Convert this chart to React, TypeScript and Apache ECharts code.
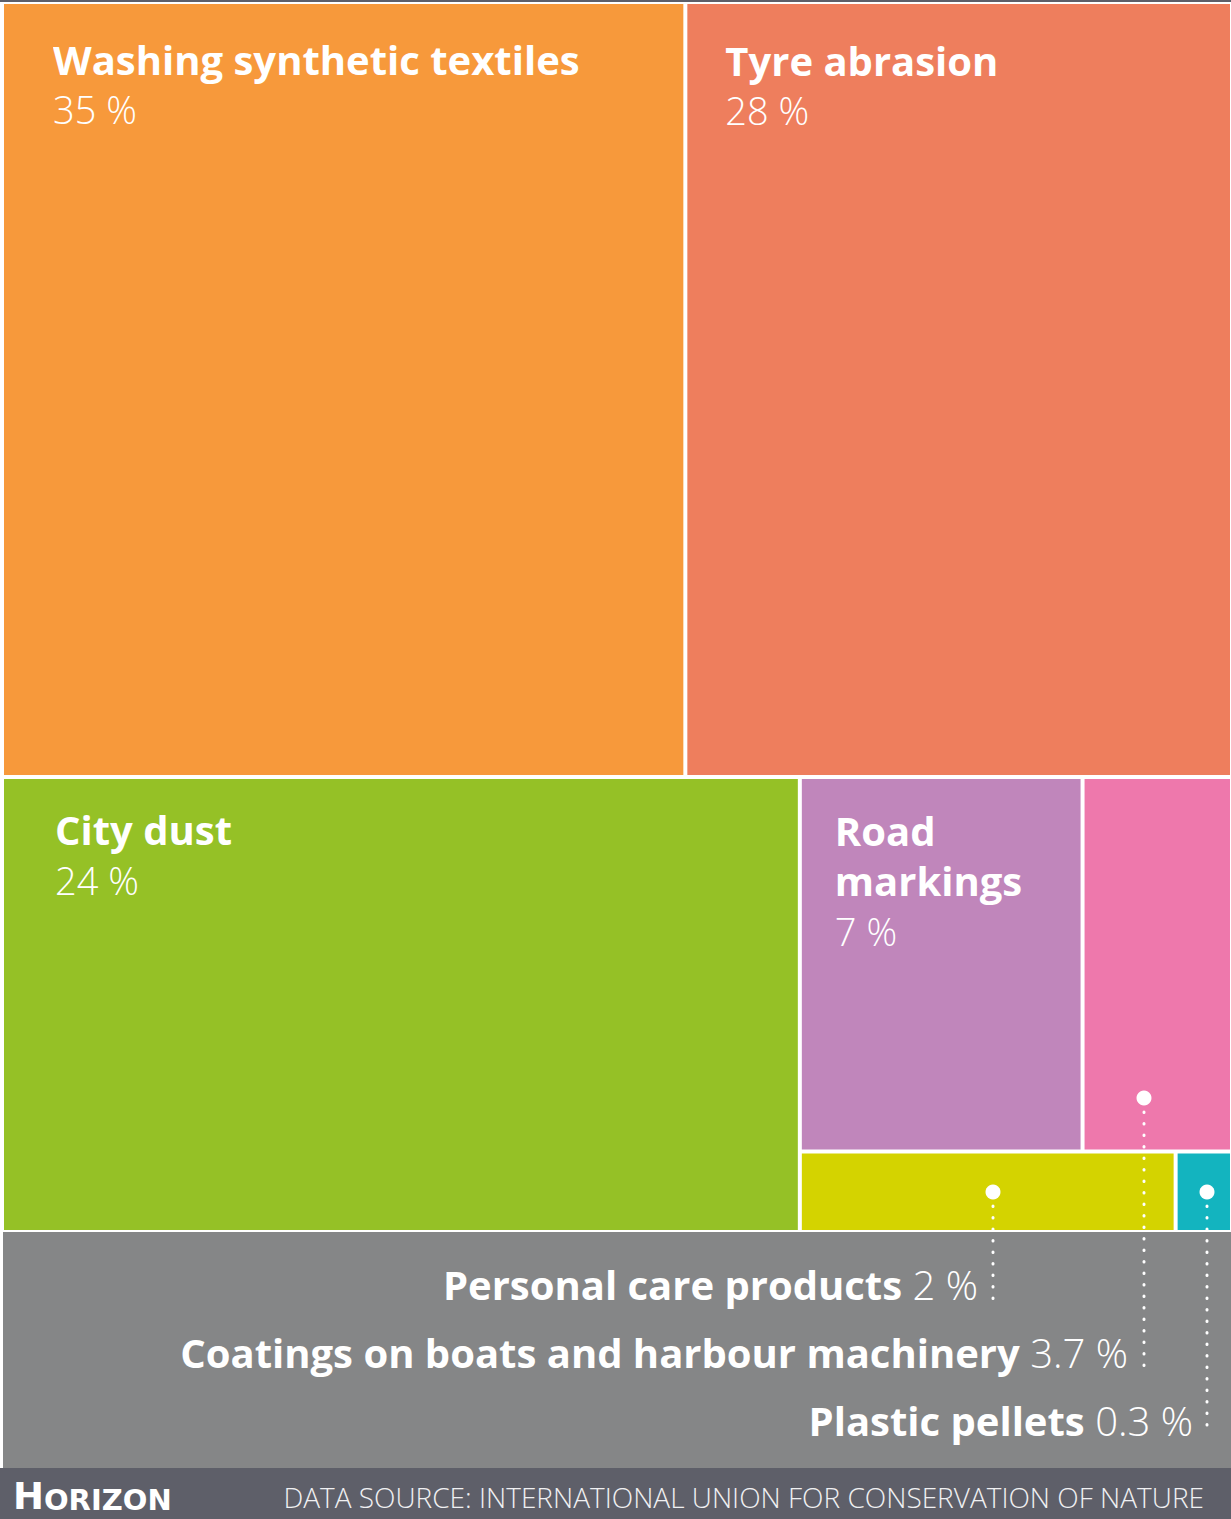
import React, { useEffect, useRef } from "react";
import * as echarts from "echarts";

const categories = [
  "Washing synthetic textiles",
  "Tyre abrasion",
  "City dust",
  "Road markings",
  "Coatings on boats and harbour machinery",
  "Personal care products",
  "Plastic pellets",
];
const shares = [35, 28, 24, 7, 3.7, 2, 0.3];
const shareLabels = ["35 %", "28 %", "24 %", "7 %", "3.7 %", "2 %", "0.3 %"];
const colors = ["#F7993B", "#EE7E5D", "#95C126", "#C086BB", "#EE78AC", "#D4D300", "#13B4BF"];
const insideLabelNames = ["Washing synthetic textiles", "Tyre abrasion", "City dust", "Road\nmarkings"];
const insideLabelPos = [
  [44, 25],
  [33, 26],
  [46, 21],
  [28, 22],
];
const footerOrder = [5, 4, 6];

const W = 1231;
const H = 1519;

export default function App() {
  const ref = useRef<HTMLDivElement>(null);
  useEffect(() => {
    document.body.style.margin = "0";
    const chart = echarts.init(ref.current!, null, { renderer: "svg" });
    const data = categories.map((name, i) => {
      const inside = i < insideLabelNames.length;
      return {
        name,
        value: shares[i],
        itemStyle: { color: colors[i] },
        label: inside
          ? {
              show: true,
              position: insideLabelPos[i],
              formatter: "{n|" + insideLabelNames[i].split("\n").join("}\n{n|") + "}\n{v|" + shareLabels[i] + "}",
            }
          : { show: false },
      };
    });

    const dots = [
      { x: 993, y: 1192, y2: 1300 },
      { x: 1144, y: 1098, y2: 1368 },
      { x: 1207, y: 1192, y2: 1436 },
    ];
    const labelRight = [978, 1128, 1193];
    const labelBase = [1284, 1352, 1420];

    const graphic: any[] = [
      { type: "rect", left: 0, top: 0, shape: { width: W, height: 2 }, style: { fill: "#5E5F69" }, z: 10 },
      { type: "rect", shape: { x: 3, y: 1232, width: W - 3, height: 236 }, style: { fill: "#858687" }, z: 10 },
      { type: "rect", shape: { x: 0, y: 1468, width: W, height: H - 1468 }, style: { fill: "#5E5F69" }, z: 10 },
    ];
    dots.forEach((d) => {
      graphic.push({
        type: "line",
        shape: { x1: d.x, y1: d.y + 14, x2: d.x, y2: d.y2 },
        style: { stroke: "#ffffff", lineWidth: 3, lineDash: [0.5, 11], lineCap: "round" },
        z: 20,
      });
      graphic.push({ type: "circle", shape: { cx: d.x, cy: d.y, r: 7.5 }, style: { fill: "#ffffff" }, z: 20 });
    });
    footerOrder.forEach((idx, k) => {
      graphic.push({
        type: "text",
        x: labelRight[k],
        y: labelBase[k],
        style: {
          text: "{b|" + categories[idx] + " }{l|" + shareLabels[idx] + "}",
          align: "right",
          verticalAlign: "middle",
          rich: {
            b: { fontFamily: "Open Sans", fontWeight: 700, fontSize: 40, fill: "#ffffff" },
            l: { fontFamily: "Open Sans", fontWeight: 300, fontSize: 40, fill: "#ffffff" },
          },
        },
        z: 20,
      });
    });
    graphic.push({
      type: "text",
      x: 13,
      y: 1496,
      style: {
        text: "{h|H}{o|ORIZON}",
        align: "left",
        verticalAlign: "middle",
        rich: {
          h: { fontFamily: "DejaVu Sans", fontWeight: 700, fontSize: 37, fill: "#ffffff" },
          o: { fontFamily: "DejaVu Sans", fontWeight: 700, fontSize: 29, fill: "#ffffff", verticalAlign: "bottom" },
        },
      },
      z: 20,
    });
    graphic.push({
      type: "text",
      x: 1204,
      y: 1497,
      style: {
        text: "DATA SOURCE: INTERNATIONAL UNION FOR CONSERVATION OF NATURE",
        align: "right",
        verticalAlign: "middle",
        fontFamily: "Open Sans",
        fontWeight: 300,
        fontSize: 28,
        fill: "#F0F0F2",
      },
      z: 20,
    });

    chart.setOption({
      animation: false,
      backgroundColor: "#ffffff",
      tooltip: { show: false },
      series: [
        {
          type: "treemap",
          left: 4,
          top: 4,
          width: 1226,
          height: 1226,
          roam: false,
          nodeClick: false,
          breadcrumb: { show: false },
          sort: "desc",
          squareRatio: 0.5 * (1 + Math.sqrt(5)),
          levels: [
            { itemStyle: { gapWidth: 4, borderWidth: 0, borderColor: "#ffffff" } },
            { itemStyle: { borderWidth: 0, gapWidth: 0 } },
          ],
          label: {
            show: true,
            overflow: "none",
            rich: {
              n: { fontFamily: "Open Sans", fontWeight: 700, fontSize: 40, lineHeight: 50, color: "#ffffff" },
              v: { fontFamily: "Open Sans", fontWeight: 300, fontSize: 38, lineHeight: 50, color: "#ffffff" },
            },
          },
          emphasis: { disabled: true },
          data,
        },
      ],
      graphic,
    });
    return () => chart.dispose();
  }, []);
  return <div ref={ref} style={{ width: W, height: H }} />;
}
